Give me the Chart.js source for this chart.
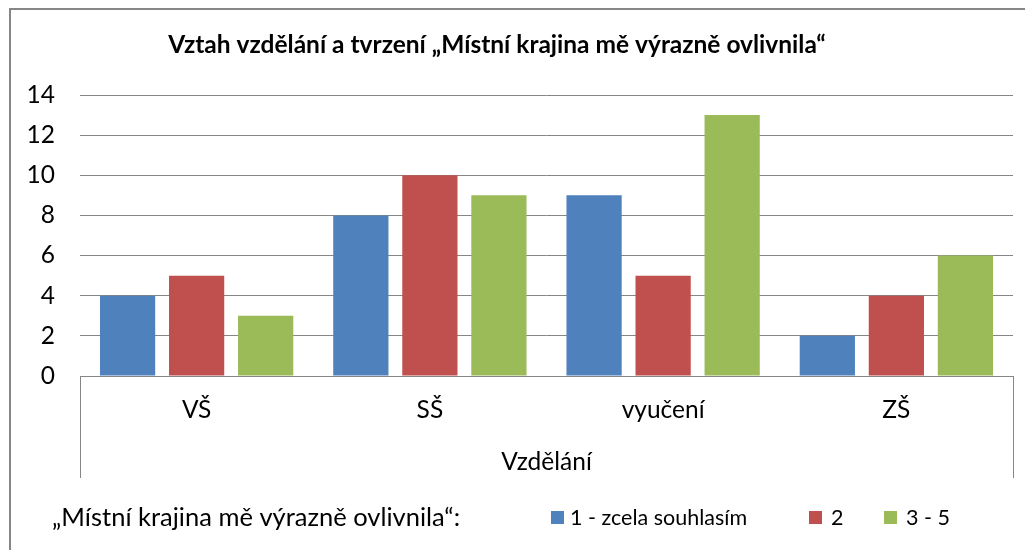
<!DOCTYPE html>
<html>
<head>
<meta charset="utf-8">
<script src="https://cdn.jsdelivr.net/npm/chart.js@4"></script>
<style>
  html, body { margin: 0; padding: 0; background: #fff; }
  #wrap { width: 1025px; height: 550px; position: relative; }
</style>
</head>
<body>
<div id="wrap"><canvas id="chart" width="1025" height="550"></canvas></div>
<script>
// data
const categories = ['VŠ', 'SŠ', 'vyučení', 'ZŠ'];
const seriesNames = ['1 - zcela souhlasím', '2', '3 - 5'];
const souhlasim = [4, 8, 9, 2];
const dva = [5, 10, 5, 4];
const triAzPet = [3, 9, 13, 6];
const yTicks = [0, 2, 4, 6, 8, 10, 12, 14];
const colors = ['#4F81BD', '#C0504D', '#9BBB59'];

const titleText = 'Vztah vzdělání a tvrzení „Místní krajina mě výrazně ovlivnila“';
const legendPrefix = '„Místní krajina mě výrazně ovlivnila“:';
const xTitle = 'Vzdělání';
const FONT = 'Lato, "Open Sans", sans-serif';
const GRID = '#868686';

// frame, axis box, title, x title, legend
const extras = {
    id: 'extras',
    afterDraw(chart) {
        const ctx = chart.ctx;
        const a = chart.chartArea;
        ctx.save();
        // outer border (only top and left visible in the picture)
        ctx.strokeStyle = GRID;
        ctx.lineWidth = 2;
        ctx.strokeRect(10, 9, 1100, 600);
        // category box under the axis
        ctx.lineWidth = 1;
        ctx.beginPath();
        ctx.moveTo(Math.round(a.left) + 0.5, a.bottom);
        ctx.lineTo(Math.round(a.left) + 0.5, 478);
        ctx.moveTo(Math.round(a.right) + 0.5, a.bottom);
        ctx.lineTo(Math.round(a.right) + 0.5, 478);
        ctx.stroke();

        ctx.fillStyle = '#000';
        ctx.textBaseline = 'middle';
        ctx.textAlign = 'center';
        ctx.font = 'bold 24.5px ' + FONT;
        ctx.fillText(titleText, 497, 45);

        ctx.font = '24.5px ' + FONT;
        ctx.fillText(xTitle, (a.left + a.right) / 2, 462);

        ctx.textAlign = 'left';
        ctx.font = '25.5px ' + FONT;
        ctx.fillText(legendPrefix, 52, 518);

        ctx.font = '21.5px ' + FONT;
        const items = [[551, 570], [809, 831], [884, 906]];
        seriesNames.forEach((name, i) => {
            ctx.fillStyle = colors[i];
            ctx.fillRect(items[i][0], 511, 13, 13);
            ctx.fillStyle = '#000';
            ctx.fillText(name, items[i][1], 518);
        });
        ctx.restore();
    }
};

const chart = new Chart(document.getElementById('chart'), {
    type: 'bar',
    data: {
        labels: categories,
        datasets: [souhlasim, dva, triAzPet].map((vals, i) => ({
            label: seriesNames[i],
            data: vals,
            backgroundColor: colors[i],
            borderWidth: 0,
            categoryPercentage: 0.888,
            barPercentage: 0.8
        }))
    },
    options: {
        responsive: false,
        animation: false,
        layout: { padding: { top: 95, right: 12, left: 0, bottom: 0 } },
        plugins: {
            legend: { display: false },
            title: { display: false },
            tooltip: { enabled: false }
        },
        scales: {
            x: {
                grid: { display: false, drawTicks: false },
                border: { display: true, color: GRID, width: 1 },
                ticks: { color: '#000', font: { family: FONT, size: 24.5 }, padding: 19 },
                afterFit(scale) { scale.height = 174; }
            },
            y: {
                min: 0,
                max: 14,
                afterBuildTicks(scale) { scale.ticks = yTicks.map(v => ({ value: v })); },
                grid: { color: GRID, lineWidth: 1, drawTicks: false },
                border: { display: false },
                ticks: { color: '#000', font: { family: FONT, size: 24.5 }, padding: 25 },
                afterFit(scale) { scale.width = 80; }
            }
        }
    },
    plugins: [extras]
});
</script>
</body>
</html>
